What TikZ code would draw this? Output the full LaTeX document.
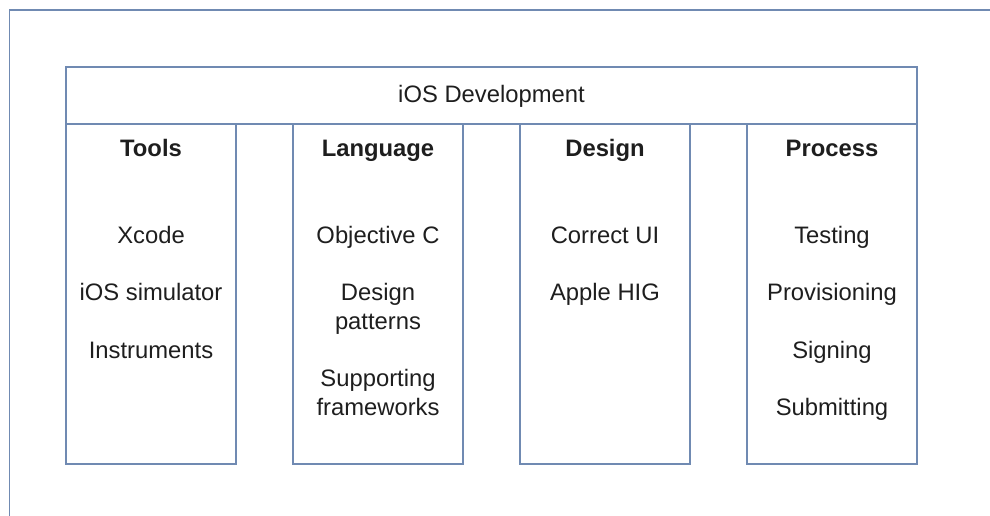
\documentclass[tikz,border=0pt]{standalone}
\usepackage{fontspec}
\setmainfont{Liberation Sans}
\definecolor{frame}{RGB}{112,138,178}
\definecolor{ink}{RGB}{30,30,30}
\tikzset{
  box/.style={draw=frame, line width=1.8pt, fill=none, inner sep=0pt, text=ink},
  col/.style={box, minimum width=170pt, minimum height=340pt},
  lbl/.style={text=ink, inner sep=0pt, anchor=base, font=\fontsize{23.8pt}{28.75pt}\selectfont},
  hdr/.style={lbl, font=\fontsize{23.8pt}{28.75pt}\selectfont\bfseries},
}
\begin{document}
\begin{tikzpicture}[x=1pt,y=-1pt]
\useasboundingbox (0,0) rectangle (990,515);
\draw[frame, line width=1.8pt] (9.5,520) -- (9.5,10) -- (995,10);
\node[box, minimum width=851pt, minimum height=57pt] (top) at (491.5,95.5) {};
\node[lbl] (toptext) at (491.5,102) {iOS Development};
\node[col] (tools) at (151,294) {};
\node[col] (lang) at (378,294) {};
\node[col] (design) at (605,294) {};
\node[col] (proc) at (832,294) {};
% headers
\node[hdr] (h1) at (151,156) {Tools};
\node[hdr] (h2) at (378,156) {Language};
\node[hdr] (h3) at (605,156) {Design};
\node[hdr] (h4) at (832,156) {Process};
% tools
\node[lbl] (t1) at (151,243) {Xcode};
\node[lbl] (t2) at (151,300.5) {iOS simulator};
\node[lbl] (t3) at (151,358) {Instruments};
% language
\node[lbl] (l1) at (378,243) {Objective C};
\node[lbl] (l2a) at (378,300.5) {Design};
\node[lbl] (l2b) at (378,329) {patterns};
\node[lbl] (l3a) at (378,386.5) {Supporting};
\node[lbl] (l3b) at (378,415) {frameworks};
% design
\node[lbl] (d1) at (605,243) {Correct UI};
\node[lbl] (d2) at (605,300.5) {Apple HIG};
% process
\node[lbl] (p1) at (832,243) {Testing};
\node[lbl] (p2) at (832,300.5) {Provisioning};
\node[lbl] (p3) at (832,358) {Signing};
\node[lbl] (p4) at (832,415) {Submitting};
\end{tikzpicture}
\end{document}
